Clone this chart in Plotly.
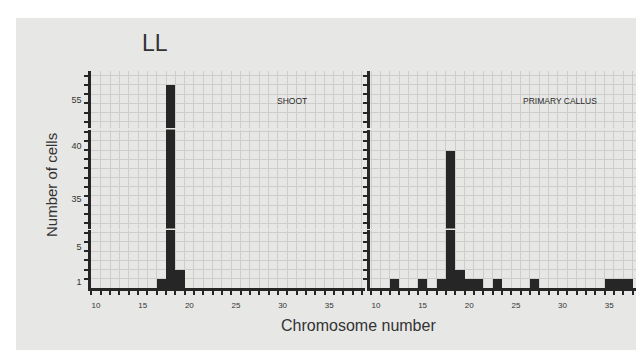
import plotly.graph_objects as go

# ---------------- data ----------------
shoot_chrom = [17, 18, 19]
shoot_cells = [1, 56, 2]

callus_chrom = [12, 15, 17, 18, 19, 20, 21, 23, 27, 35, 36, 37]
callus_cells = [1, 1, 1, 39, 2, 1, 1, 1, 1, 1, 1, 1]

x_tick_vals = [10, 15, 20, 25, 30, 35]
x_tick_text = ["10", "15", "20", "25", "30", "35"]

# broken y axis: three segments (bottom, middle, top)
seg_ranges = [[0, 6.3], [30.45, 41.25], [51.35, 57.5]]
seg_label_vals = [[0.65, 4.45], [33.7, 39.5], [54.4]]
seg_label_text = [["1", "5"], ["35", "40"], ["55"]]
seg_minor_ticks = [list(range(1, 7)), list(range(31, 42)), list(range(52, 58))]

# ---------------- layout helpers ----------------
W, H = 644, 350
BG = "#e7e7e5"
INK = "#262626"
TXT = "#333333"
GRID = "#cdcdcb"
FONT = "Liberation Sans, Arial, sans-serif"


def fx(px):
    return px / W


def fy(py):
    return 1 - py / H


col_px = [(83, 357), (362, 628)]
col_xrange = [[9.46, 38.83], [9.36, 37.87]]
seg_px = [(222, 280), (121.5, 220.5), (63, 120)]

fig = go.Figure()
layout = {}

panels = [(shoot_chrom, shoot_cells), (callus_chrom, callus_cells)]
for c, (xs, ys) in enumerate(panels):
    xname = "x" if c == 0 else "x2"
    xkey = "xaxis" if c == 0 else "xaxis2"
    ynums = [1 + 3 * c + s for s in range(3)]
    ynames = ["y" if n == 1 else f"y{n}" for n in ynums]
    ykeys = ["yaxis" if n == 1 else f"yaxis{n}" for n in ynums]

    xr = col_xrange[c]
    half = [i + 0.5 for i in range(9, 39) if xr[0] < i + 0.5 < xr[1]]
    layout[xkey] = dict(
        domain=[fx(col_px[c][0]), fx(col_px[c][1])],
        range=xr,
        anchor=ynames[0],
        showline=True, linecolor=INK, linewidth=2.5,
        tickmode="array", tickvals=x_tick_vals, ticktext=x_tick_text,
        ticks="", ticklabelstandoff=8,
        tickfont=dict(family=FONT, size=8, color=TXT),
        showgrid=False, zeroline=False,
        minor=dict(tickmode="array", tickvals=half, ticks="outside",
                   ticklen=4, tickwidth=1.5, tickcolor=INK,
                   showgrid=True, gridcolor=GRID, gridwidth=1),
    )
    for s in range(3):
        top_px, bot_px = seg_px[s]
        layout[ykeys[s]] = dict(
            domain=[fy(bot_px), fy(top_px)],
            range=seg_ranges[s],
            anchor=xname,
            showline=True, linecolor=INK, linewidth=2.5,
            tickmode="array", tickvals=seg_label_vals[s],
            ticktext=seg_label_text[s] if c == 0 else [""] * len(seg_label_vals[s]),
            showticklabels=(c == 0),
            ticks="", ticklabelstandoff=5,
            tickfont=dict(family=FONT, size=9, color=TXT),
            showgrid=False, zeroline=False,
            minor=dict(tickmode="array", tickvals=seg_minor_ticks[s], ticks="outside",
                       ticklen=4, tickwidth=1.5, tickcolor=INK,
                       showgrid=True, gridcolor=GRID, gridwidth=1),
        )
        fig.add_trace(go.Bar(
            x=xs, y=ys, width=1, xaxis=xname, yaxis=ynames[s],
            marker=dict(color=INK, line=dict(width=0)),
            showlegend=False, hoverinfo="x+y",
        ))

annotations = [
    dict(text="LL", x=fx(147), y=fy(35), font=dict(size=23, color=TXT, family=FONT)),
    dict(text="SHOOT", x=fx(284), y=fy(93), font=dict(size=8.5, color="#2a2a2a", family=FONT)),
    dict(text="PRIMARY CALLUS", x=fx(552), y=fy(93), font=dict(size=8.5, color="#2a2a2a", family=FONT)),
    dict(text="Chromosome number", x=fx(351), y=fy(317), font=dict(size=16, color=TXT, family=FONT)),
    dict(text="Number of cells", x=fx(44), y=fy(177), textangle=-90,
         font=dict(size=15, color=TXT, family=FONT)),
]
for a in annotations:
    a.update(xref="paper", yref="paper", showarrow=False, xanchor="center", yanchor="middle")

shapes = [
    dict(type="rect", xref="paper", yref="paper", x0=0, x1=1, y0=fy(10), y1=1,
         fillcolor="white", line=dict(width=0), layer="below"),
    dict(type="rect", xref="paper", yref="paper", x0=0, x1=fx(8), y0=0, y1=1,
         fillcolor="white", line=dict(width=0), layer="below"),
]

fig.update_layout(
    width=W, height=H,
    margin=dict(l=0, r=0, t=0, b=0),
    paper_bgcolor=BG, plot_bgcolor=BG,
    bargap=0, barmode="overlay",
    annotations=annotations, shapes=shapes,
    font=dict(family=FONT, color=TXT),
    **layout,
)

fig.write_html("out.html")
